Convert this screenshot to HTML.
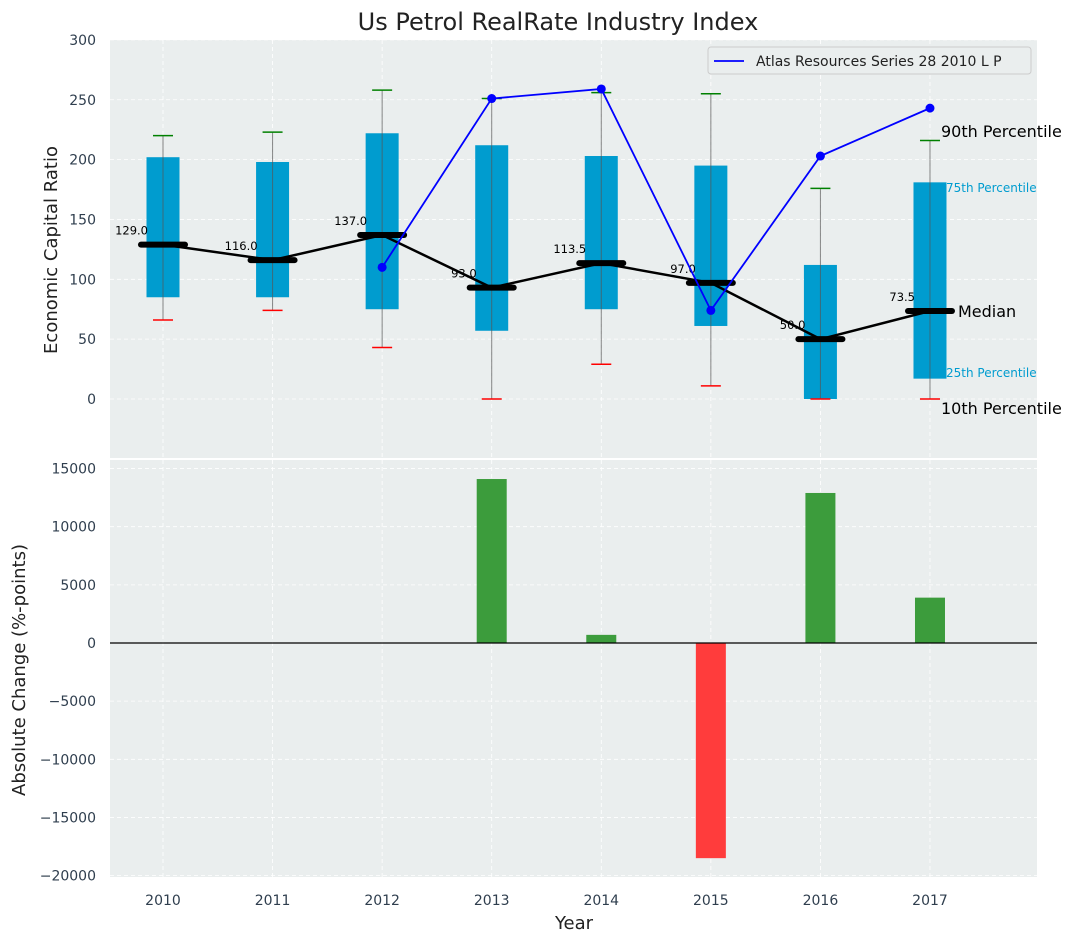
<!DOCTYPE html>
<html><head><meta charset="utf-8"><style>
body{margin:0;background:#fff;font-family:"Liberation Sans","DejaVu Sans",sans-serif}
svg text{font-family:"DejaVu Sans","Liberation Sans",sans-serif}
</style></head><body>
<svg id="c" width="1076" height="942" xmlns="http://www.w3.org/2000/svg"></svg>
<script>
const years=[2010,2011,2012,2013,2014,2015,2016,2017];
const p10=[66,74,43,0,29,11,0,0];
const q1=[85,85,75,57,75,61,0,17];
const medians=[129,116,137,93,113.5,97,50,73.5];
const q3=[202,198,222,212,203,195,112,181];
const p90=[220,223,258,251,256,255,176,216];
const atlasYears=[2012,2013,2014,2015,2016,2017];
const atlasVals=[110,251,259,74,203,243];
const changeYears=[2013,2014,2015,2016,2017];
const changeVals=[14100,700,-18500,12900,3900];
const topTicks=[0,50,100,150,200,250,300];
const botTicks=[-20000,-15000,-10000,-5000,0,5000,10000,15000];

const NS="http://www.w3.org/2000/svg";
const svg=document.getElementById('c');
function el(t,a,p){const e=document.createElementNS(NS,t);for(const k in a)e.setAttribute(k,a[k]);(p||svg).appendChild(e);return e;}
const L=110,R=1037;
const x=v=>163+(v-2010)*109.57;
const T0=40,T1=458;const yT=v=>399-v*1.197;
const B0=460,B1=877;const yB=v=>643-v*0.01163;

// backgrounds
let e=el('rect',{x:L,y:T0,width:R-L,height:T1-T0,fill:'#eaeeee'});

e=el('rect',{x:L,y:B0,width:R-L,height:B1-B0,fill:'#eaeeee'});


// grids
years.forEach(yr=>{
  el('line',{x1:x(yr),x2:x(yr),y1:T0,y2:T1,stroke:'#fff','stroke-dasharray':'4,3','stroke-width':0.8});
  el('line',{x1:x(yr),x2:x(yr),y1:B0,y2:B1,stroke:'#fff','stroke-dasharray':'4,3','stroke-width':0.8});
});
topTicks.forEach(t=>{
  el('line',{x1:L,x2:R,y1:yT(t),y2:yT(t),stroke:'#fff','stroke-dasharray':'4,3','stroke-width':0.8});
  const tx=el('text',{x:96,y:yT(t)+5,'text-anchor':'end','font-size':14,fill:'#2f3e4e'});tx.textContent=t;
  
});
botTicks.forEach(t=>{
  el('line',{x1:L,x2:R,y1:yB(t),y2:yB(t),stroke:'#fff','stroke-dasharray':'4,3','stroke-width':0.8});
  const tx=el('text',{x:96,y:yB(t)+5,'text-anchor':'end','font-size':14,fill:'#2f3e4e'});tx.textContent=t.toString().replace('-','\u2212');
  
});
years.forEach(yr=>{
  const tx=el('text',{x:x(yr),y:905,'text-anchor':'middle','font-size':14,fill:'#2f3e4e'});tx.textContent=yr;
  
});

// boxes
const bw=33;
years.forEach((yr,i)=>{
  const cx=x(yr);
  const b=el('rect',{x:cx-bw/2,y:yT(q3[i]),width:bw,height:yT(q1[i])-yT(q3[i]),fill:'#009ccf'});
  
  el('line',{x1:cx,x2:cx,y1:yT(p90[i]),y2:yT(p10[i]),stroke:'#555',"stroke-opacity":0.7,'stroke-width':1});
  el('line',{x1:cx-10,x2:cx+10,y1:yT(p90[i]),y2:yT(p90[i]),stroke:'green','stroke-width':1.5});
  el('line',{x1:cx-10,x2:cx+10,y1:yT(p10[i]),y2:yT(p10[i]),stroke:'red','stroke-width':1.5});
});
// median line
let d=years.map((yr,i)=>(i?'L':'M')+x(yr)+','+yT(medians[i])).join(' ');
e=el('path',{d:d,fill:'none',stroke:'#000','stroke-width':2.5});

years.forEach((yr,i)=>{
  const cx=x(yr),cy=yT(medians[i]);
  const m=el('line',{x1:cx-22,x2:cx+22,y1:cy,y2:cy,stroke:'#000','stroke-width':6,'stroke-linecap':'round'});
  
  const t=el('text',{x:cx-15,y:cy-10,'text-anchor':'end','font-size':11.5,fill:'#000'});t.textContent=medians[i].toFixed(1);
  
});
// atlas
d=atlasYears.map((yr,i)=>(i?'L':'M')+x(yr)+','+yT(atlasVals[i])).join(' ');
e=el('path',{d:d,fill:'none',stroke:'#0000ff','stroke-width':1.8});

atlasYears.forEach((yr,i)=>{
  const c=el('circle',{cx:x(yr),cy:yT(atlasVals[i]),r:4.5,fill:'#0000ff'});
  
});
// annotations
const ann=[['90th Percentile',941,137,16,'#000'],['75th Percentile',946,192,12,'#009ccf'],['Median',958,317,16,'#000'],['25th Percentile',946,377,12,'#009ccf'],['10th Percentile',941,414,16,'#000']];
ann.forEach(a=>{const t=el('text',{x:a[1],y:a[2],'font-size':a[3],fill:a[4]});t.textContent=a[0];
  });
// legend
const lg=el('g',{});
el('rect',{x:708,y:47,width:323,height:27,fill:'#eaeeee',stroke:'#ccc',rx:3},lg);
el('line',{x1:714,x2:744,y1:61,y2:61,stroke:'#0000ff','stroke-width':1.8},lg);
let lt=el('text',{x:756,y:66,'font-size':14,fill:'#222'},lg);lt.textContent='Atlas Resources Series 28 2010 L P';

// bottom bars
changeYears.forEach((yr,i)=>{
  const v=changeVals[i];const y0=yB(Math.max(v,0)),y1=yB(Math.min(v,0));
  const b=el('rect',{x:x(yr)-15,y:y0,width:30,height:y1-y0,fill:v>=0?'#3c9c3c':'#ff3c3c'});
  
});
el('line',{x1:L,x2:R,y1:yB(0),y2:yB(0),stroke:'#000','stroke-width':1.2});

// titles
let t=el('text',{x:558,y:30,'text-anchor':'middle','font-size':24,fill:'#222'});t.textContent='Us Petrol RealRate Industry Index';

t=el('text',{x:0,y:0,'text-anchor':'middle','font-size':18,fill:'#222',transform:'translate(57,250) rotate(-90)'});t.textContent='Economic Capital Ratio';

t=el('text',{x:0,y:0,'text-anchor':'middle','font-size':18,fill:'#222',transform:'translate(25,670) rotate(-90)'});t.textContent='Absolute Change (%-points)';

t=el('text',{x:574,y:929,'text-anchor':'middle','font-size':18,fill:'#222'});t.textContent='Year';

</script>
</body></html>
